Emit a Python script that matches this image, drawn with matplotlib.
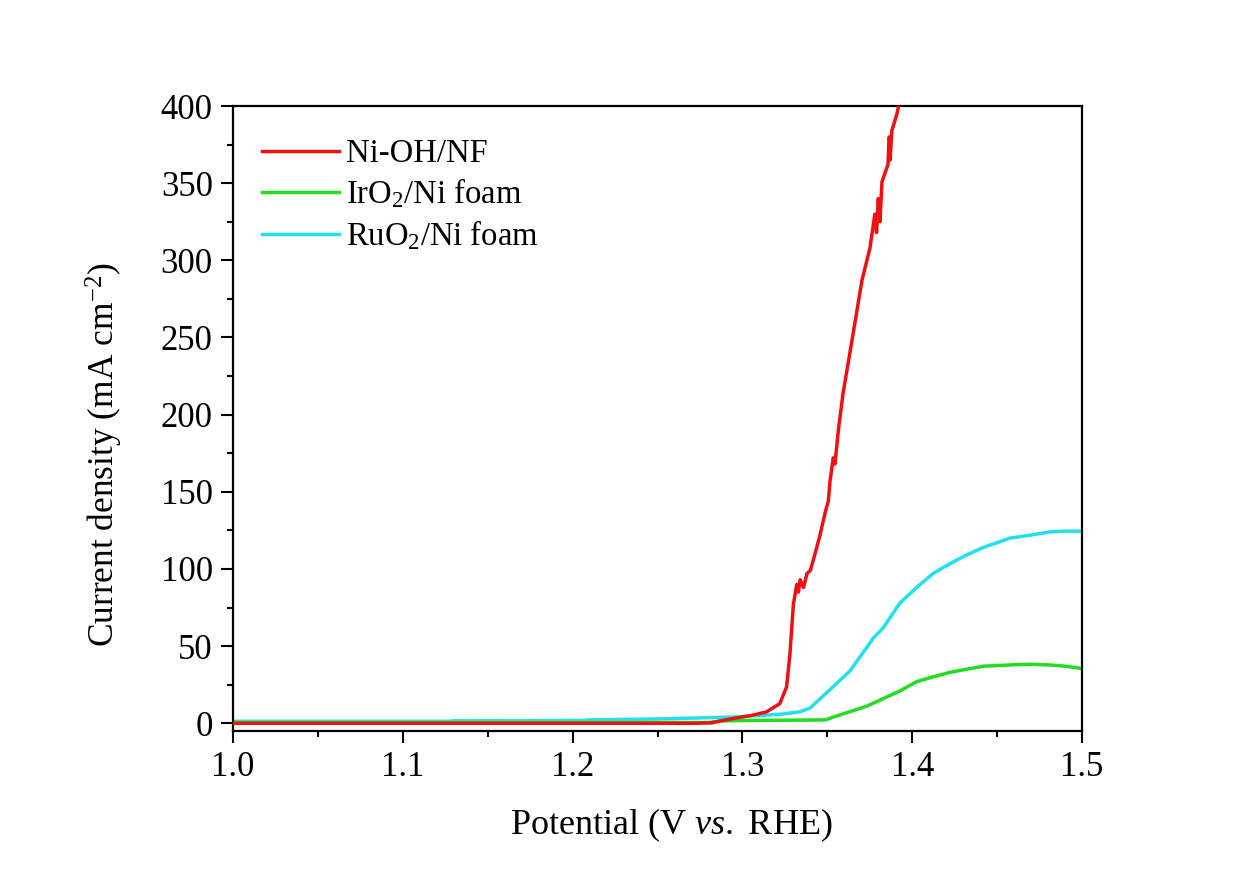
import matplotlib
matplotlib.use("Agg")
import matplotlib.pyplot as plt
from matplotlib.ticker import MultipleLocator

plt.rcParams['font.family'] = ['Liberation Serif', 'DejaVu Serif']
plt.rcParams['mathtext.fontset'] = 'custom'
plt.rcParams['mathtext.rm'] = 'Liberation Serif'
plt.rcParams['mathtext.it'] = 'Liberation Serif:italic'

# Data (Potential in V vs RHE, current density in mA cm^-2)
red_v = [1.0, 1.1, 1.2, 1.27, 1.282, 1.287, 1.294, 1.305, 1.314, 1.322, 1.326, 1.328,
         1.330, 1.332, 1.333, 1.334, 1.336, 1.338, 1.340, 1.3428, 1.3457, 1.3486, 1.3506,
         1.3516, 1.3535, 1.3545, 1.3565, 1.3593, 1.3645, 1.3704, 1.3751, 1.378, 1.379,
         1.380, 1.381, 1.3822, 1.3857, 1.3865, 1.387, 1.388, 1.391, 1.392]
red_j = [0, 0, 0, 0, 0.3, 1.5, 3, 5, 7.3, 12.7, 23.5, 45,
         77, 90, 85, 93, 88, 97, 99, 110, 122, 136, 144,
         157, 172, 168, 190, 214, 248, 287, 308, 330, 318,
         340, 325, 351, 362, 380, 365, 384, 395, 400]

green_v = [1.0, 1.28, 1.287, 1.30, 1.33, 1.349, 1.3535, 1.373, 1.383, 1.3928, 1.4026,
           1.412, 1.4222, 1.432, 1.442, 1.4615, 1.47, 1.481, 1.49, 1.5]
green_j = [0.5, 0.5, 1.5, 1.8, 2.0, 2.2, 4, 11, 16, 21, 27,
           30, 33, 35, 37, 38, 38.2, 37.8, 37, 35.5]

cyan_v = [1.0, 1.05, 1.1, 1.128, 1.129, 1.17, 1.208, 1.209, 1.25, 1.294, 1.324, 1.334,
          1.340, 1.3498, 1.3634, 1.377, 1.383, 1.3928, 1.4026, 1.4122, 1.4183, 1.43,
          1.442, 1.4576, 1.47, 1.481, 1.49, 1.5]
cyan_j = [1.3, 1.3, 1.3, 1.3, 1.6, 1.7, 1.9, 2.2, 2.8, 4, 6, 7.5,
          10, 20, 34, 55, 62, 78, 88, 97, 101, 108,
          114, 120, 122, 124, 124.5, 124.5]

labels = ['Ni-OH/NF', r'IrO$_2$/Ni foam', r'RuO$_2$/Ni foam']
colors = ['#ee1111', '#22dd22', '#22e0ee']

fig = plt.figure(figsize=(12.42, 8.69), dpi=100)
ax = fig.add_axes([0.1876, 0.1588, 0.6836, 0.7192])

l3, = ax.plot(cyan_v, cyan_j, color=colors[2], lw=2.5, zorder=2)
l2, = ax.plot(green_v, green_j, color=colors[1], lw=2.5, zorder=2.5)
l1, = ax.plot(red_v, red_j, color=colors[0], lw=2.5, zorder=3)

ax.set_xlim(1.0, 1.5)
ax.set_ylim(-5, 400)
ax.xaxis.set_major_locator(MultipleLocator(0.1))
ax.xaxis.set_minor_locator(MultipleLocator(0.05))
ax.yaxis.set_major_locator(MultipleLocator(50))
ax.yaxis.set_minor_locator(MultipleLocator(25))
ax.tick_params(which='both', direction='out', width=1.5, labelsize=25, top=False, right=False)
ax.tick_params(which='major', length=8.5, pad=6)
ax.tick_params(which='minor', length=4.5)
ax.xaxis.set_major_formatter(matplotlib.ticker.FormatStrFormatter('%.1f'))
for s in ax.spines.values():
    s.set_linewidth(1.6)

ax.set_xlabel(r'Potential (V $\mathit{vs.}$ RHE)', fontsize=26, labelpad=16)
ax.xaxis.label.set_x(0.516)
ax.set_ylabel(r'Current density (mA cm$^{-2}$)', fontsize=25.5, labelpad=26)
ax.yaxis.label.set_y(0.4416)

ax.legend([l1, l2, l3], labels, loc='upper left', frameon=False, fontsize=23.5,
          handlelength=2.35, handletextpad=0.2, labelspacing=0.24,
          bbox_to_anchor=(0.0, 0.995))

fig.savefig('out.png', dpi=100, facecolor='white')
